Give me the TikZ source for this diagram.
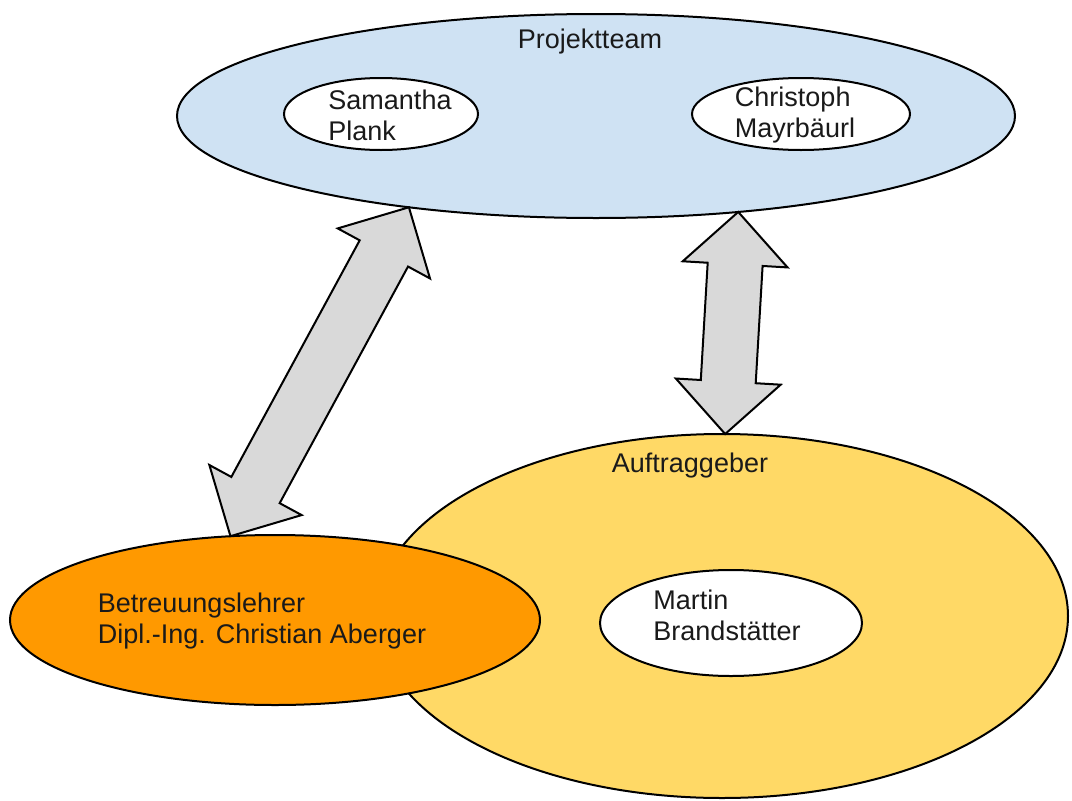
\documentclass[tikz,border=0pt]{standalone}
\usepackage{fontspec}
\setmainfont{Liberation Sans}
\usepackage{tikz}
\usetikzlibrary{shapes.geometric,shapes.arrows,calc}
\definecolor{teamblue}{HTML}{CFE2F3}
\definecolor{kundegelb}{HTML}{FFD966}
\definecolor{lehrerorange}{HTML}{FF9900}
\definecolor{pfeilgrau}{HTML}{D9D9D9}
\definecolor{schrift}{HTML}{1A1A1A}
\tikzset{blob/.style = {ellipse, draw=black, line width=2pt, inner sep=0pt, outer sep=0pt}}
\tikzset{person/.style = {blob, fill=white}}
\tikzset{txt/.style = {align=left, text=schrift, inner sep=0pt}}
\tikzset{dblarrow/.style = {double arrow, draw=black, line width=2pt, fill=pfeilgrau, minimum width=103pt, double arrow head extend=25pt, inner xsep=0pt, inner ysep=26.5pt, outer sep=0pt}}

\begin{document}
\begin{tikzpicture}[x=1pt,y=-1pt,font=\fontsize{27}{31}\selectfont]
\useasboundingbox (0,0) rectangle (1072,801);

\node[blob, fill=teamblue, minimum width=838pt, minimum height=204pt] (team) at (596,116) {};
\node[txt] (teamlabel) at (590,42) {Projektteam};
\node[person, minimum width=194pt, minimum height=72pt] (samantha) at (381,114) {};
\node[txt] (samanthatxt) at (390,115) {Samantha\\Plank};
\node[person, minimum width=218pt, minimum height=72pt] (christoph) at (801,114) {};
\node[txt] (christophtxt) at (795,115) {Christoph\\Mayrbäurl};

\node[blob, fill=kundegelb, minimum width=692pt, minimum height=364pt] (kunde) at (722,616) {};
\node[txt] (kundelabel) at (690,466) {Auftraggeber};
\node[person, minimum width=262pt, minimum height=106pt] (martin) at (731,623) {};
\node[txt] (martintxt) at (727,615) {Martin\\Brandstätter};

\node[blob, fill=lehrerorange, minimum width=530pt, minimum height=170pt] (lehrer) at (275,620) {};
\node[txt] (lehrertxt) at (262,621) {Betreuungslehrer\\Dipl.-Ing. Christian Aberger};

\coordinate (lu) at (lehrer.118);
\coordinate (lo) at (team.206);
\coordinate (ru) at (kunde.89);
\coordinate (ro) at (team.326);

\path let \p1=($(lo)-(lu)$) in node[dblarrow, minimum height={veclen(\x1,\y1)}, rotate={atan2(\y1,\x1)}] (pfeillinks) at ($(lu)!0.5!(lo)$) {};
\path let \p1=($(ro)-(ru)$) in node[dblarrow, minimum height={veclen(\x1,\y1)}, rotate={atan2(\y1,\x1)}] (pfeilrechts) at ($(ru)!0.5!(ro)$) {};
\end{tikzpicture}
\end{document}
